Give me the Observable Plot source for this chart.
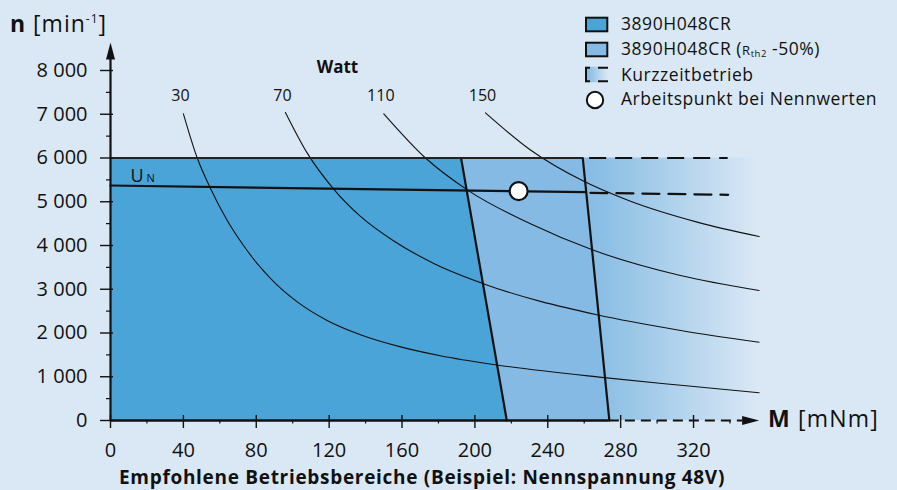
<!DOCTYPE html>
<html><head><meta charset="utf-8">
<script src="https://cdn.jsdelivr.net/npm/d3@7"></script>
<script src="https://cdn.jsdelivr.net/npm/@observablehq/plot@0.6"></script>
<style>
html,body{margin:0;padding:0;background:#dae8f5;}
#wrap{position:relative;width:897px;height:490px;background:#dae8f5;font-family:"Open Sans",sans-serif;color:#111;overflow:hidden}
#wrap > svg{position:absolute;left:0;top:0}
.t{position:absolute;white-space:nowrap;line-height:1;font-family:"Open Sans",sans-serif;color:#111}
</style></head><body><div id="wrap"></div>
<script>
// ---- data ----
const powerLabels = ["30", "70", "110", "150"];
const curve30M = [40, 47.6, 54.5, 64, 73.2, 82.3, 91.5, 102.5, 118.9, 137.2, 159.2, 181, 212, 271, 313, 356];
const curve30N = [7010, 6000, 5339, 4578, 3989, 3499, 3093, 2712, 2288, 1961, 1683, 1481, 1270, 980, 805, 633];
const curve70M = [96, 108, 122.6, 137.2, 155.5, 178, 205, 267, 313, 356];
const curve70N = [7042, 6111, 5285, 4665, 4103, 3579, 3122, 2416, 2058, 1789];
const curve110M = [150, 172.9, 195.8, 230.5, 264.4, 312.8, 356];
const curve110N = [7010, 6000, 5272, 4495, 3901, 3314, 2971];
const curve150M = [205.8, 230.5, 259.8, 285.4, 322, 356];
const curve150N = [7031, 6182, 5466, 5011, 4534, 4205];

const regionN = [0, 6000];            // speed limits of the operating regions
const ratedEdgeM = [217.5, 192.4];     // 3890H048CR boundary
const rth2EdgeM = [273.8, 259.2];      // 3890H048CR (Rth2 -50%) boundary
const shortTermEndM = [356, 356];      // Kurzzeitbetrieb fades out
const startM = [0, 0];

const topLimitN = [6000];
const topSolidM = [0, 259.2];
const topDashM = [263, 339];

const unSolidM = [0, 260.7];
const unSolidN = [5371, 5218];
const unDashM = [263.4, 339];
const unDashN = [5205, 5158];

const opPointM = [224];
const opPointN = [5241];

const xTicks = [0, 40, 80, 120, 160, 200, 240, 280, 320];
const xMinorTicks = [20, 60, 100, 140, 180, 220, 260, 300, 340];
const yTicks = [0, 1000, 2000, 3000, 4000, 5000, 6000, 7000, 8000];
const yTickLabels = ["0", "1 000", "2 000", "3 000", "4 000", "5 000", "6 000", "7 000", "8 000"];
const yMinorTicks = [500, 1500, 2500, 3500, 4500, 5500, 6500, 7500];

const xAxisTipM = [356];
const xAxisDashEndM = [347];
const yAxisTipN = [8640];
const yAxisEndN = [8500];

// ---- colours ----
const BG = "#dae8f5", DARK = "#4aa4d8", LIGHT = "#84bae3", INK = "#111";

const curves = [
  {P: powerLabels[0], M: curve30M, n: curve30N},
  {P: powerLabels[1], M: curve70M, n: curve70N},
  {P: powerLabels[2], M: curve110M, n: curve110N},
  {P: powerLabels[3], M: curve150M, n: curve150N}
];
const curveRows = curves.flatMap(c => c.M.map((m, i) => ({P: c.P, M: m, n: c.n[i]})));
const labelRows = curves.map(c => ({P: c.P, M: c.M[0]}));
const regionRows = regionN.map((n, i) => ({n, a: startM[i], b: ratedEdgeM[i], c: rth2EdgeM[i], d: shortTermEndM[i]}));
const unStart = [{M: unSolidM[0], n: unSolidN[0]}];

const arrowUp = {
  draw(ctx) { ctx.moveTo(0, 0); ctx.lineTo(4.5, 17); ctx.lineTo(-4.5, 17); ctx.closePath(); }
};

const blank = () => "";

const svg = Plot.plot({
  width: 897, height: 490,
  marginLeft: 110, marginRight: 897 - 110 - 350 * 1.822, marginTop: 70, marginBottom: 70,
  x: {domain: [0, 350], label: null},
  y: {domain: [0, 8000], label: null},
  style: {background: "transparent", fontFamily: "Open Sans, sans-serif", fontSize: "20px", color: INK, overflow: "visible"},
  marks: [
    Plot.areaX(regionRows, {y: "n", x1: "a", x2: "b", fill: DARK}),
    Plot.areaX(regionRows, {y: "n", x1: "b", x2: "c", fill: LIGHT}),
    Plot.areaX(regionRows, {y: "n", x1: "c", x2: "d", fill: "url(#fade)"}),
    Plot.line(curveRows, {x: "M", y: "n", z: "P", stroke: INK, strokeWidth: 1.1, curve: "monotone-x"}),
    Plot.line(regionRows, {x: "b", y: "n", stroke: INK, strokeWidth: 2.2}),
    Plot.line(regionRows, {x: "c", y: "n", stroke: INK, strokeWidth: 2.2}),
    Plot.ruleY(topLimitN, {x1: topSolidM[0], x2: topSolidM[1], stroke: "#222", strokeWidth: 2.2}),
    Plot.ruleY(topLimitN, {x1: topDashM[0], x2: topDashM[1], stroke: INK, strokeWidth: 2.2, strokeDasharray: "17,9"}),
    Plot.line(unSolidM.map((m, i) => ({M: m, n: unSolidN[i]})), {x: "M", y: "n", stroke: INK, strokeWidth: 2.2}),
    Plot.line(unDashM.map((m, i) => ({M: m, n: unDashN[i]})), {x: "M", y: "n", stroke: INK, strokeWidth: 2.2, strokeDasharray: "17,9"}),
    Plot.text(unStart, {x: "M", y: "n", text: () => "U", dx: 20, dy: -9, textAnchor: "start", fontSize: 18}),
    Plot.text(unStart, {x: "M", y: "n", text: () => "N", dx: 36, dy: -7, textAnchor: "start", fontSize: 11}),
    Plot.dot(opPointM.map((m, i) => ({M: m, n: opPointN[i]})), {x: "M", y: "n", r: 9, fill: "white", stroke: INK, strokeWidth: 2.2}),
    // axes
    Plot.ruleY([0], {x1: startM[0], x2: rth2EdgeM[0], stroke: INK, strokeWidth: 2.6}),
    Plot.ruleY([0], {x1: rth2EdgeM[0], x2: xAxisDashEndM[0], stroke: INK, strokeWidth: 2.2, strokeDasharray: "10,6"}),
    Plot.dot(xAxisTipM.map(m => ({M: m, n: 0})), {x: "M", y: "n", symbol: arrowUp, rotate: 90, fill: INK, stroke: "none"}),
    Plot.ruleX([0], {y1: 0, y2: yAxisEndN[0], stroke: INK, strokeWidth: 2.2}),
    Plot.dot(yAxisTipN.map(n => ({M: 0, n})), {x: "M", y: "n", symbol: arrowUp, fill: INK, stroke: "none"}),
    Plot.axisX(xTicks, {tickSize: 13, dy: -5, tickFormat: blank, strokeWidth: 1.4, label: null}),
    Plot.axisX(xMinorTicks, {tickSize: 3.5, tickFormat: blank, strokeWidth: 1.2, label: null}),
    Plot.axisX(xTicks, {tickSize: 0, tickPadding: 22, fontSize: 20, label: null}),
    Plot.axisY(yTicks, {tickSize: 13, dx: 3, tickFormat: blank, strokeWidth: 1.4, label: null}),
    Plot.axisY(yMinorTicks, {tickSize: 4, tickFormat: blank, strokeWidth: 1.2, label: null}),
    Plot.axisY(yTicks, {tickSize: 0, tickPadding: 23, fontSize: 20, label: null, tickFormat: d => yTickLabels[yTicks.indexOf(d)]}),
    // power curve labels
    Plot.text(labelRows, {x: "M", text: "P", frameAnchor: "top", lineAnchor: "middle", textAnchor: "middle", dy: 25, dx: -3, fontSize: 16}),
    Plot.text(["Watt"], {frameAnchor: "top-left", textAnchor: "middle", lineAnchor: "middle", dx: 227, dy: -3, fontSize: 17, fontWeight: "bold"})
  ]
});

const defs = d3.select(svg).insert("defs", ":first-child");
const g = defs.append("linearGradient").attr("id", "fade").attr("x1", 0).attr("x2", 1).attr("y1", 0).attr("y2", 0);
g.append("stop").attr("offset", "0").attr("stop-color", "#86bbe4");
g.append("stop").attr("offset", "0.12").attr("stop-color", "#8cbfe5");
g.append("stop").attr("offset", "1").attr("stop-color", BG);

const wrap = document.getElementById("wrap");
wrap.appendChild(svg);

function label(html, left, baseline, fs, extra = "") {
  const d = document.createElement("div");
  d.className = "t";
  d.style.cssText = `left:${left}px;top:${baseline - 0.888 * fs}px;font-size:${fs}px;${extra}`;
  d.innerHTML = html;
  wrap.appendChild(d);
  return d;
}

label('<b>n</b> [min<span style="font-size:12px;position:relative;top:-9px">-1</span>]', 10, 32, 23, "letter-spacing:1px;");
label('<b>M</b> [mNm]', 768, 427, 23, "letter-spacing:1.2px;");
label('Empfohlene Betriebsbereiche (Beispiel: Nennspannung 48V)', 422, 484.5, 19, "font-weight:bold;letter-spacing:0.7px;transform:translateX(-50%);");

// legend
const legendItems = [
  '3890H048CR',
  '3890H048CR (<span style="font-size:13px">R<span style="font-size:9.5px;position:relative;top:2px">th2</span></span> -50%)',
  'Kurzzeitbetrieb',
  'Arbeitspunkt bei Nennwerten'
];
const legendBaselines = [31, 56, 82, 106];
legendItems.forEach((t, i) => label(t, 621, legendBaselines[i], 17.5, "letter-spacing:0.55px;"));

const icons = document.createElementNS("http://www.w3.org/2000/svg", "svg");
icons.setAttribute("width", 40); icons.setAttribute("height", 120);
icons.style.position = "absolute"; icons.style.left = "580px"; icons.style.top = "0px";
icons.innerHTML = `
<defs><linearGradient id="lg3" x1="0" x2="1"><stop offset="0" stop-color="#7db6e0"/><stop offset="1" stop-color="${BG}"/></linearGradient></defs>
<rect x="6" y="17.7" width="21.3" height="13.6" fill="${DARK}" stroke="${INK}" stroke-width="2"/>
<rect x="6" y="42.7" width="21.3" height="13.6" fill="${LIGHT}" stroke="${INK}" stroke-width="2"/>
<rect x="5" y="66.7" width="23" height="15.6" fill="url(#lg3)"/>
<path d="M10 67.7 H6 V81.3 H10 M18 67.7 H28 M18 81.3 H28" fill="none" stroke="${INK}" stroke-width="2"/>
<circle cx="15" cy="100" r="8.2" fill="white" stroke="${INK}" stroke-width="2"/>`;
wrap.appendChild(icons);
</script></body></html>
